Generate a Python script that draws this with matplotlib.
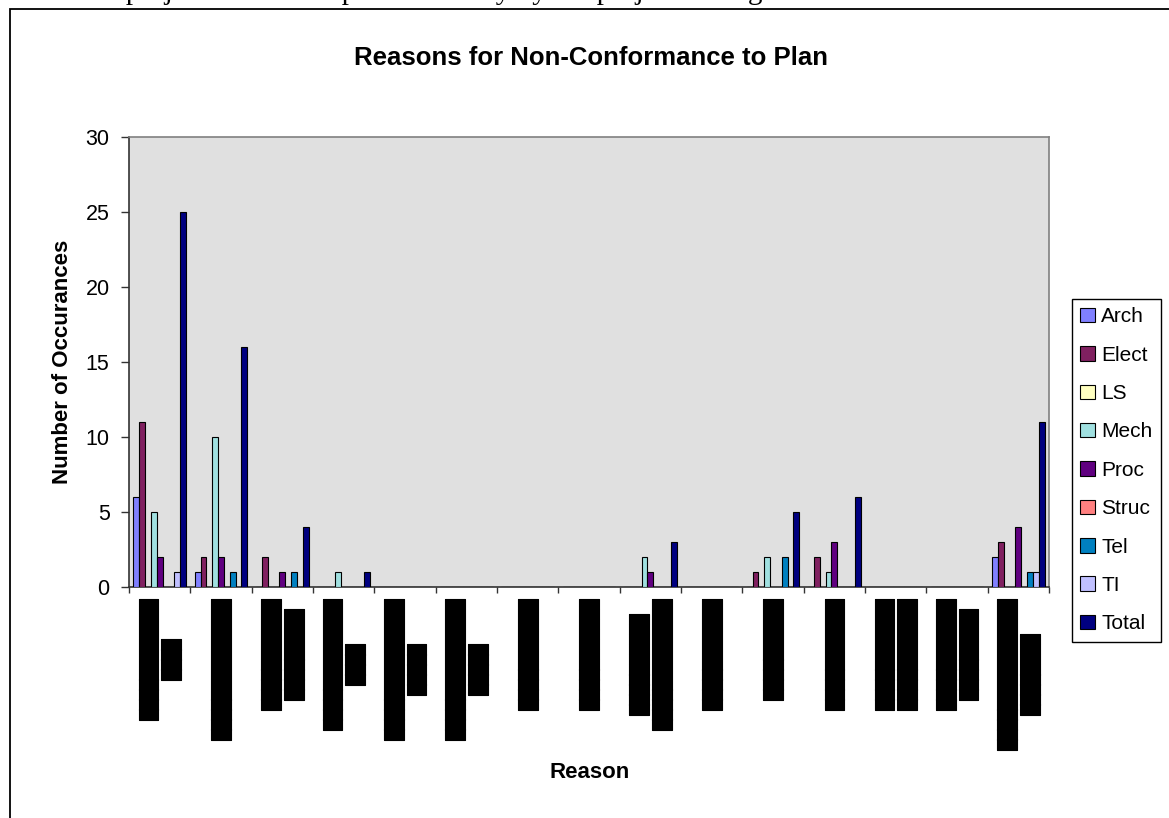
import matplotlib
matplotlib.use('Agg')
import matplotlib.pyplot as plt
import matplotlib.patheffects as pe
import numpy as np
from matplotlib.patches import Rectangle

# data
series = ['Arch', 'Elect', 'LS', 'Mech', 'Proc', 'Struc', 'Tel', 'TI', 'Total']
colors = ['#8080FF', '#802060', '#FFFFC0', '#A0E0E0', '#600080',
          '#FF8080', '#0080C0', '#C0C0FF', '#000080']

arch  = [6, 1, 0, 0, 0, 0, 0, 0, 0, 0, 0, 0, 0, 0, 2]
elect = [11, 2, 2, 0, 0, 0, 0, 0, 0, 0, 1, 2, 0, 0, 3]
ls    = [0, 0, 0, 0, 0, 0, 0, 0, 0, 0, 0, 0, 0, 0, 0]
mech  = [5, 10, 0, 1, 0, 0, 0, 0, 2, 0, 2, 1, 0, 0, 0]
proc  = [2, 2, 1, 0, 0, 0, 0, 0, 1, 0, 0, 3, 0, 0, 4]
struc = [0, 0, 0, 0, 0, 0, 0, 0, 0, 0, 0, 0, 0, 0, 0]
tel   = [0, 1, 1, 0, 0, 0, 0, 0, 0, 0, 2, 0, 0, 0, 1]
ti    = [1, 0, 0, 0, 0, 0, 0, 0, 0, 0, 0, 0, 0, 0, 1]
total = [25, 16, 4, 1, 0, 0, 0, 0, 3, 0, 5, 6, 0, 0, 11]

# category names are blacked out in the source
reasons = [
    '████████████\n████',
    '██████████████',
    '███████████\n█████████',
    '█████████████\n████',
    '██████████████\n█████',
    '██████████████\n█████',
    '███████████',
    '███████████',
    '██████████\n█████████████',
    '███████████',
    '██████████',
    '███████████',
    '███████████\n███████████',
    '███████████\n█████████',
    '███████████████\n████████',
]

values = [arch, elect, ls, mech, proc, struc, tel, ti, total]

W, H = 1169, 818
fig = plt.figure(figsize=(W / 100, H / 100), dpi=100)
plt.rcParams['font.family'] = ['Liberation Sans', 'DejaVu Sans']

# clipped line of document text above the chart
fig.text(15 / W, 1 + 0.5 / H, 'of a total project level and updated weekly by the project manager.',
         fontfamily='Liberation Serif', fontsize=21, va='baseline', ha='left')

# chart frame
fig.add_artist(Rectangle((9.5 / W, -0.1), 1.2, 1.1 - 9.2 / H, fill=False,
                         edgecolor='black', linewidth=1.3, transform=fig.transFigure))

ax = fig.add_axes([129 / W, (H - 587) / H, 920 / W, 450 / H])
ax.set_facecolor('#E0E0E0')

n = len(reasons)
x = np.arange(n) + 0.5
w = 1 / 10.5
handles = []
for j, (name, vals) in enumerate(zip(series, values)):
    b = ax.bar(x + (j - 4) * w, vals, width=w, color=colors[j], edgecolor='black',
               linewidth=0.8, label=name, zorder=3)
    handles.append(b)

ax.set_xlim(0, n)
ax.set_ylim(0, 30)
ax.set_yticks(range(0, 31, 5))
ax.tick_params(axis='y', direction='out', length=6, width=1, labelsize=15.5, pad=8, color='#333333')
ax.set_xticks(x)
ax.set_xticklabels(reasons, rotation=90, fontfamily='DejaVu Sans Mono', fontsize=12,
                   linespacing=1.16, multialignment='center')
for lab in ax.get_xticklabels():
    lab.set_path_effects([pe.withStroke(linewidth=0.8, foreground='black')])
ax.tick_params(axis='x', length=0, pad=9)
ax.set_xticks(np.arange(n + 1), minor=True)
ax.tick_params(axis='x', which='minor', direction='out', length=4, width=1, color='#333333')

for s in ['left', 'bottom']:
    ax.spines[s].set_color('#333333')
    ax.spines[s].set_linewidth(1.2)
for s in ['top', 'right']:
    ax.spines[s].set_color('#808080')
    ax.spines[s].set_linewidth(1.2)

fig.text(591 / W, 1 - 58 / H, 'Reasons for Non-Conformance to Plan', fontsize=18.5,
         fontweight='bold', ha='center', va='center')
fig.text(63 / W, 1 - 362 / H, 'Number of Occurances', fontsize=16, fontweight='bold',
         rotation=90, ha='center', va='center')
fig.text(590 / W, 1 - 772 / H, 'Reason', fontsize=16, fontweight='bold',
         ha='center', va='center')

leg = ax.legend(handles, series, loc='upper left',
                bbox_to_anchor=(1072 / W, 1 - 299 / H), bbox_transform=fig.transFigure,
                fancybox=False, edgecolor='black', framealpha=1, fontsize=15,
                handlelength=0.7, handleheight=0.7, handletextpad=0.3,
                labelspacing=0.93, borderpad=0.4, borderaxespad=0)
leg.get_frame().set_linewidth(1)

fig.savefig('out.png', dpi=100)
